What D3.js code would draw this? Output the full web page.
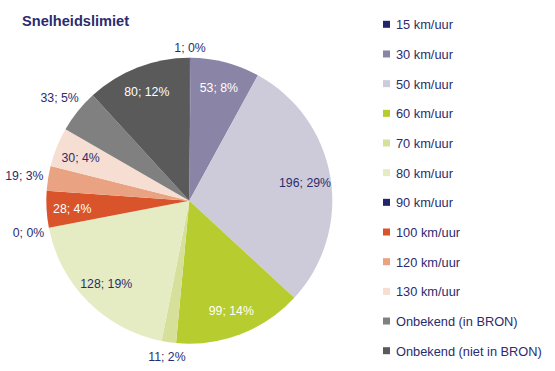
<!DOCTYPE html>
<html><head><meta charset="utf-8">
<script src="https://cdn.jsdelivr.net/npm/d3@7"></script>
<style>
html,body{margin:0;padding:0;background:#fff;}
svg{display:block;font-family:"Liberation Sans",Arial,sans-serif;}
</style></head>
<body>
<svg id="chart" width="555" height="371"></svg>
<script>
const title = "Snelheidslimiet";
const categories = ["15 km/uur","30 km/uur","50 km/uur","60 km/uur","70 km/uur","80 km/uur","90 km/uur","100 km/uur","120 km/uur","130 km/uur","Onbekend (in BRON)","Onbekend (niet in BRON)"];
const values = [1,53,196,99,11,128,0,28,19,30,33,80];
const percentLabels = ["0%","8%","29%","14%","2%","19%","0%","4%","3%","4%","5%","12%"];
const colors = ["#23256a","#8a84a6","#cdcbda","#b7cc2f","#d7e09a","#e5ebc3","#23256a","#d9542b","#e9a383","#f7ded2","#808080","#5a5a5a"];
const outsideLabels = ["15 km/uur","70 km/uur","90 km/uur","120 km/uur","Onbekend (in BRON)"];
const whiteLabels = ["30 km/uur","60 km/uur","100 km/uur","Onbekend (niet in BRON)"];

const textColor = "#2b2c6e";
const svg = d3.select("#chart");
const cx = 189.3, cy = 200.7, R = 143;

svg.append("text").attr("x",22).attr("y",26)
  .attr("font-weight","bold").attr("font-size",14.6).attr("fill",textColor).text(title);

const data = categories.map((c,i)=>({cat:c,value:values[i],pct:percentLabels[i],color:colors[i]}));
const pie = d3.pie().value(d=>d.value).sort(null);
const arcs = pie(data);
const arc = d3.arc().innerRadius(0).outerRadius(R);
const g = svg.append("g").attr("transform",`translate(${cx},${cy})`);
g.selectAll("path").data(arcs).join("path").attr("d",arc).attr("fill",d=>d.data.color);

const fs = 12.3;
arcs.forEach(a=>{
  const mid = (a.startAngle+a.endAngle)/2;
  const label = `${a.data.value}; ${a.data.pct}`;
  const t = g.append("text").attr("font-size",fs).attr("text-anchor","middle")
    .attr("dominant-baseline","central").text(label);
  const outside = outsideLabels.includes(a.data.cat);
  let r;
  if (outside) {
    const w = t.node().getComputedTextLength();
    const hw = w/2, hh = 7;
    r = R + 4 + hw*Math.abs(Math.sin(mid)) + hh*Math.abs(Math.cos(mid));
    t.attr("fill",textColor);
  } else {
    r = R*0.82;
    t.attr("fill", whiteLabels.includes(a.data.cat) ? "#ffffff" : textColor);
  }
  t.attr("x", r*Math.sin(mid)).attr("y", -r*Math.cos(mid) + 1);
});

const ly = d3.scalePoint().domain(categories).range([24.3,350.7]);
const leg = svg.append("g");
categories.forEach((c,i)=>{
  leg.append("rect").attr("x",383).attr("y",ly(c)-3.5).attr("width",7).attr("height",7).attr("fill",colors[i]);
  leg.append("text").attr("x",396).attr("y",ly(c)+0.5).attr("dominant-baseline","central")
    .attr("font-size",12.8).attr("fill",textColor).text(c);
});
</script>
</body></html>
